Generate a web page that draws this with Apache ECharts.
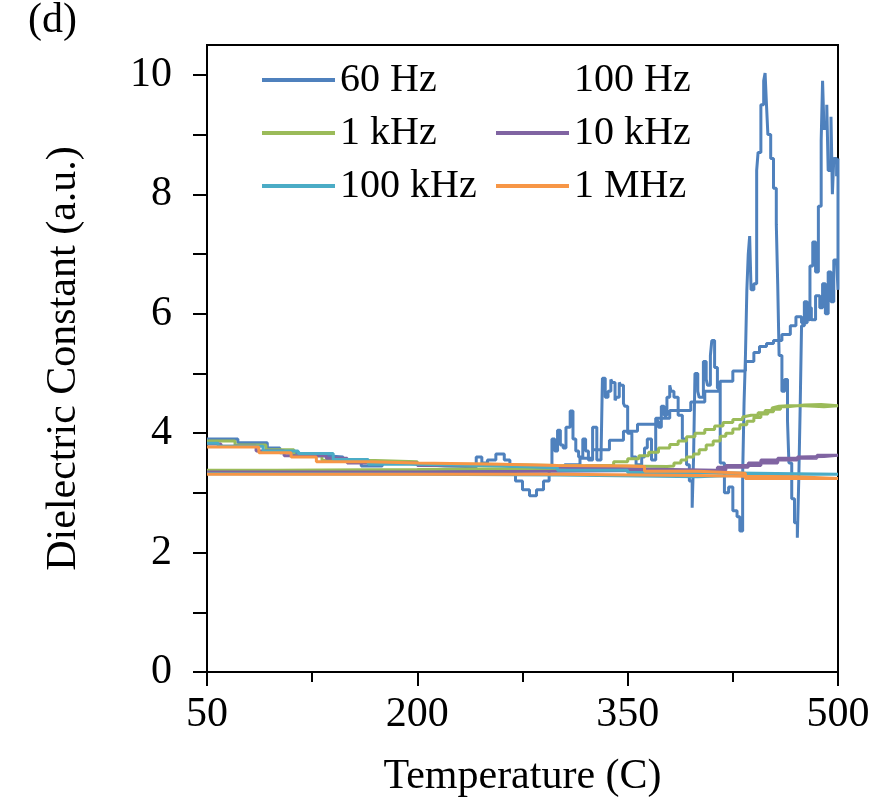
<!DOCTYPE html>
<html><head><meta charset="utf-8">
<script src="https://cdn.jsdelivr.net/npm/echarts@6/dist/echarts.min.js"></script>
<style>html,body{margin:0;padding:0;background:#fff}#c{width:873px;height:803px}</style>
</head><body><div id="c"></div><script>
// Tick labels
const xTickLabels = [50, 200, 350, 500];
const yTickLabels = [0, 2, 4, 6, 8, 10];
const yTicks = [0,1,2,3,4,5,6,7,8,9,10];
const seriesNames = ['60 Hz', '100 Hz', '1 kHz', '10 kHz', '100 kHz', '1 MHz'];

// 60 Hz (heating then cooling)
const hz60T = [50,72,93,102,116,135,147,160,175,190,205,220,235,242,246,250,256,262,266,270,275,280,285,290,294,296,298,300,302,304,306,309,311,313,315,318,320,322,325,328,331,332,334,336,338,339,341,342,344,345,347,348,350,353,356,360,362,364,367,370,372,374,376,378,380,381,383,386,389,392,394,396,397,398,400,401,404,406,407,409,410,412,414,416,419,422,425,428,430,432,433,434,435,436,437,438,440,442,443,445,447,448,449,450,452,454,456,457,458,460,462,464,465,467,469,471,472,473,474,476,478,480,482,484,486,488,489,490,492,493,495,496,497,499,500,
  500,499,497,495,493,491,489,487,484,481,478,474,470,466,460,454,449,444,440,434,425,416,405,395,380,370,357,347,337,325,316,305,290,250,200,150,100,50];
const hz60V = [3.9,3.84,3.75,3.67,3.62,3.6,3.55,3.45,3.5,3.47,3.45,3.44,3.43,3.6,3.5,3.55,3.65,3.55,3.45,3.2,3.05,2.95,3.05,3.2,3.4,3.9,3.7,4.05,3.8,3.75,4.1,4.37,3.9,3.7,3.6,3.9,3.7,3.55,4.1,3.55,3.6,4.92,4.6,4.7,4.9,4.85,4.55,4.6,4.85,4.8,4.5,4.45,4.0,3.6,3.47,3.6,3.75,3.9,3.55,4.2,4.1,4.45,4.3,4.6,4.8,4.7,4.6,4.3,3.9,3.47,3.2,2.75,3.6,5.0,4.7,4.6,5.2,4.9,4.8,5.3,5.55,5.1,4.75,3.5,3.0,3.1,2.7,2.6,2.36,3.3,4.5,5.3,6.4,7.0,7.3,6.4,6.5,8.4,8.7,9.5,9.9,10.03,9.5,9.0,8.6,8.1,7.5,6.5,5.3,4.7,4.9,4.2,3.5,2.9,2.5,2.25,3.2,4.4,5.8,6.2,5.9,6.8,7.2,6.7,7.8,8.9,9.9,9.1,9.5,8.4,9.3,8.0,8.6,8.3,8.6,
  6.4,6.9,6.2,6.7,6.0,6.5,6.1,6.3,5.9,6.1,5.85,5.95,5.8,5.65,5.55,5.5,5.45,5.35,5.2,5.04,4.87,4.7,4.52,4.38,4.25,4.15,4.03,3.88,3.72,3.58,3.47,3.4,3.37,3.35,3.34,3.34,3.34,3.34];

// 100 Hz (not drawn in the reference)
const hz100T = [];
const hz100V = [];

// 1 kHz
const khz1T = [50,70,92,112,132,170,200,250,300,347,378,383,388,392,397,401,406,411,416,420,425,430,435,440,445,450,454,459,464,476,488,500,
  500,490,476,464,458,453,448,443,438,432,425,418,412,405,398,392,386,380,372,365,358,350,340,320,300,200,100,50];
const khz1V = [3.87,3.8,3.72,3.62,3.54,3.52,3.48,3.46,3.45,3.44,3.45,3.5,3.55,3.6,3.65,3.72,3.8,3.87,3.95,4.0,4.07,4.14,4.2,4.26,4.32,4.36,4.4,4.44,4.47,4.48,4.46,4.44,
  4.44,4.46,4.46,4.45,4.42,4.38,4.34,4.3,4.27,4.23,4.18,4.12,4.06,4.0,3.94,3.87,3.81,3.75,3.68,3.62,3.57,3.52,3.46,3.41,3.39,3.38,3.38,3.38];

// 10 kHz
const khz10T = [50,60,85,105,135,150,200,260,300,360,414,436,457,485,500,
  500,490,471,445,420,380,300,200,50];
const khz10V = [3.82,3.78,3.7,3.62,3.58,3.5,3.46,3.43,3.4,3.38,3.43,3.5,3.58,3.63,3.63,
  3.61,3.6,3.55,3.46,3.38,3.36,3.35,3.35,3.35];

// 100 kHz
const khz100T = [50,58,90,115,140,165,200,260,300,350,400,470,500,
  500,471,434,400,300,200,50];
const khz100V = [3.83,3.78,3.7,3.66,3.56,3.48,3.45,3.42,3.38,3.34,3.32,3.31,3.31,
  3.31,3.3,3.27,3.3,3.31,3.32,3.32];

// 1 MHz
const mhz1T = [50,87,110,128,165,200,260,300,350,362,400,434,500,
  500,470,434,400,300,200,50];
const mhz1V = [3.77,3.67,3.6,3.52,3.5,3.48,3.46,3.45,3.44,3.36,3.33,3.24,3.23,
  3.27,3.28,3.29,3.31,3.31,3.31,3.31];

const colors = ['#4F81BD', 'rgba(0,0,0,0)', '#9BBB59', '#8064A2', '#4BACC6', '#F79646'];
const allT = [hz60T, hz100T, khz1T, khz10T, khz100T, mhz1T];
const allV = [hz60V, hz100V, khz1V, khz10V, khz100V, mhz1V];

const FONT = 'Liberation Serif';
const chart = echarts.init(document.getElementById('c'));
const series = seriesNames.map((name, i) => ({
  name, type: 'line', showSymbol: false, symbol: 'none', animation: false, step: 'end',
  data: allT[i].map((t, j) => [t, allV[i][j]]),
  lineStyle: { color: colors[i], width: 3 },
  itemStyle: { color: colors[i] }
}));
const legendCommon = {
  orient: 'vertical', icon: 'rect', itemWidth: 73, itemHeight: 4, itemGap: 13,
  selectedMode: false,
  textStyle: { fontFamily: FONT, fontSize: 40, color: '#000', lineHeight: 40 }
};
chart.setOption({
  animation: false,
  backgroundColor: '#fff',
  title: { text: '(d)', left: 28, top: 0, padding: 0, textStyle: { fontFamily: FONT, fontSize: 42, fontWeight: 'normal', color: '#000' } },
  legend: [
    Object.assign({}, legendCommon, { left: 257, top: 55, data: [seriesNames[0], seriesNames[2], seriesNames[4]] }),
    Object.assign({}, legendCommon, { left: 491, top: 55, data: [seriesNames[1], seriesNames[3], seriesNames[5]] })
  ],
  grid: { left: 207, right: 35, top: 45, bottom: 129, show: true, borderColor: '#000', borderWidth: 2, backgroundColor: 'transparent' },
  xAxis: {
    type: 'value', min: 50, max: 500, interval: 150,
    name: 'Temperature (C)', nameLocation: 'middle', nameGap: 84,
    nameTextStyle: { fontFamily: FONT, fontSize: 42, color: '#000' },
    axisLine: { show: true, lineStyle: { color: '#000', width: 2 } },
    axisTick: { show: true, inside: false, length: 14, lineStyle: { color: '#000', width: 2 } },
    minorTick: { show: true, splitNumber: 2, length: 10, lineStyle: { color: '#000', width: 2 } },
    splitLine: { show: false }, minorSplitLine: { show: false },
    axisLabel: { fontFamily: FONT, fontSize: 42, color: '#000', margin: 22,
      formatter: v => xTickLabels.indexOf(v) >= 0 ? String(v) : '' }
  },
  yAxis: {
    type: 'value', min: 0, max: 10.5,
    name: 'Dielectric Constant (a.u.)', nameLocation: 'middle', nameGap: 122, nameRotate: 90,
    nameTextStyle: { fontFamily: FONT, fontSize: 42, color: '#000' },
    axisLine: { show: true, lineStyle: { color: '#000', width: 2 } },
    axisTick: { show: true, inside: false, length: 14, customValues: yTicks, lineStyle: { color: '#000', width: 2 } },
    splitLine: { show: false },
    axisLabel: { fontFamily: FONT, fontSize: 42, color: '#000', margin: 35, customValues: yTickLabels }
  },
  series
});
</script></body></html>
